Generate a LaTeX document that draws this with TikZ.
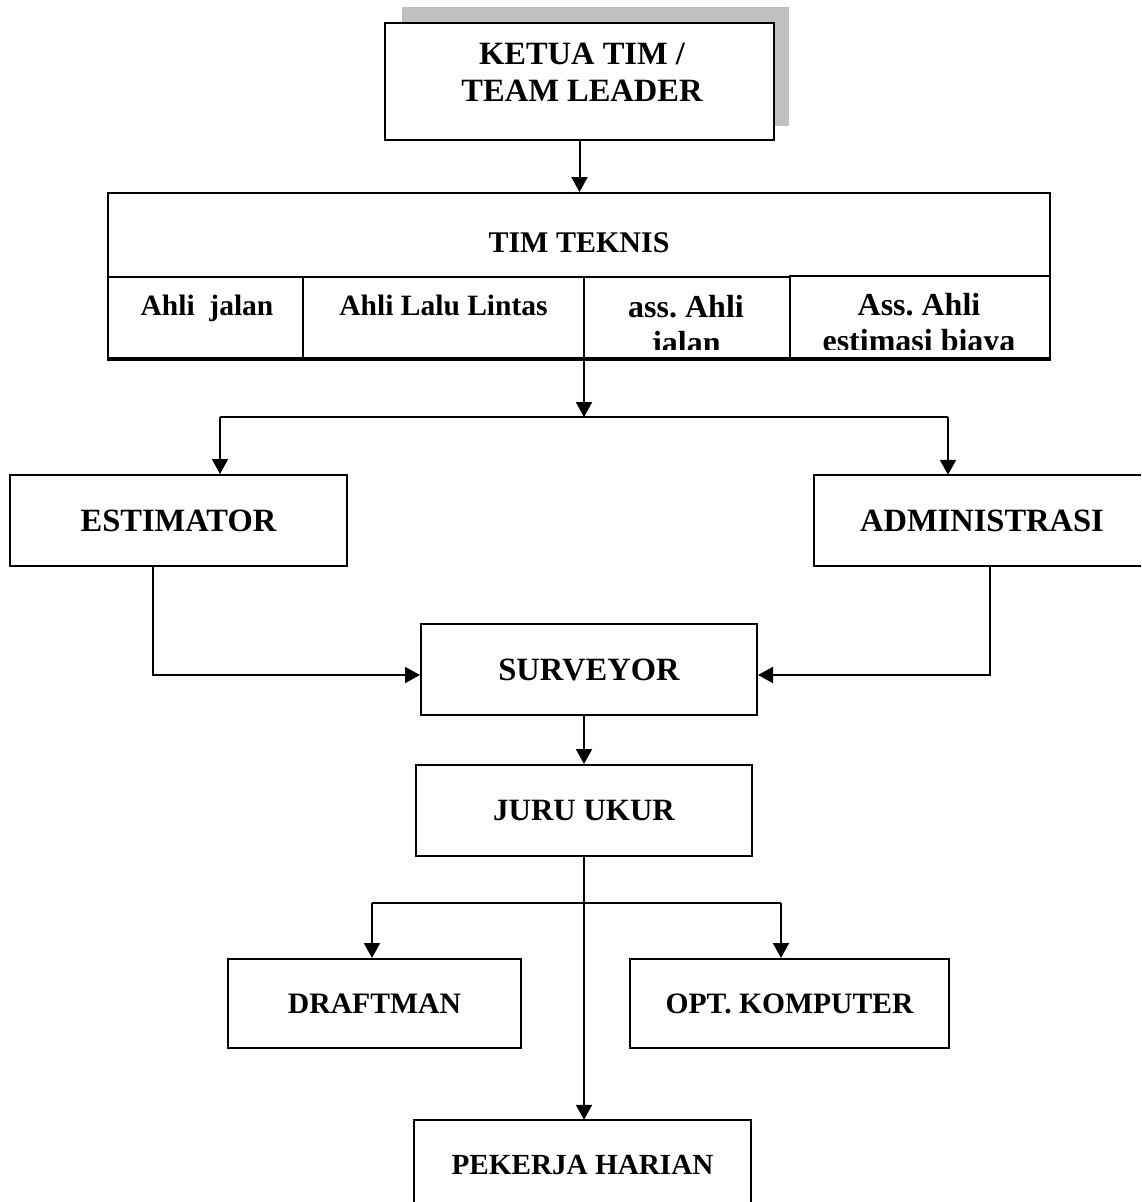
\documentclass[tikz,border=0pt]{standalone}
\usepackage{fontspec}
\setmainfont{Liberation Serif}
\usetikzlibrary{arrows.meta}
\definecolor{shadowgray}{RGB}{192,192,192}
\newcommand\fs[1]{\fontsize{#1}{37}\selectfont\bfseries\frenchspacing}
\newcommand\fsc[1]{\fontsize{#1}{36}\selectfont\bfseries\frenchspacing}
\begin{document}
\begin{tikzpicture}[x=1pt,y=-1pt,
  box/.style={draw, line width=2pt, fill=white, inner sep=0pt, align=center},
  txt/.style={inner sep=0pt, align=center},
  arr/.style={line width=2pt, -{Triangle[length=15pt,width=16pt]}},
  ln/.style={line width=2pt}]
\useasboundingbox (0,0) rectangle (1141,1202);

% top box with shadow
\fill[shadowgray] (402,7) rectangle (789,126);
\node[box, minimum width=389pt, minimum height=117pt] (ketua) at (579.5,81.5) {};
\node[txt, anchor=north, font=\fs{32.5}] (ketual) at (582,43) {KETUA TIM /\\TEAM LEADER};

% TIM TEKNIS block
\node[draw, line width=2pt, inner sep=0pt, minimum width=942pt, minimum height=165pt] (tim) at (579,275.5) {};
\node[txt, font=\fs{30}] (timl) at (579,243) {TIM TEKNIS};
\draw[ln] (tim.west |- 0,277) -- (789,277);
\draw[ln] (789,275.5) -- (tim.east |- 0,275.5);
\draw[ln] (303,277) -- (303,358);
\draw[ln] (584,277) -- (584,358);
\draw[ln] (790,275.5) -- (790,358);
\begin{scope}
  \clip (110,279) rectangle (1048,349);
  \node[txt, anchor=base, font=\fsc{29.5}] (c1) at (207,315) {Ahli\ \ jalan};
  \node[txt, anchor=base, font=\fsc{29.5}] (c2) at (443.5,315) {Ahli Lalu Lintas};
  \node[txt, anchor=north, font=\fsc{32}] (c3) at (686,295) {ass. Ahli\\jalan};
  \node[txt, anchor=north, font=\fsc{32}] (c4) at (919,293) {Ass. Ahli\\estimasi biaya};
\end{scope}
\draw[line width=3.5pt] (tim.south west) -- (tim.south east);

\draw[arr] (ketua.south) -- (ketua.south |- tim.north);

% split to estimator / administrasi
\coordinate (split) at (584,417);
\coordinate (sl) at (220,417);
\coordinate (sr) at (948,417);
\node[box, minimum width=337pt, minimum height=91pt, font=\fs{32.5}] (est) at (178.5,520.5) {ESTIMATOR};
\node[txt, minimum width=336pt, minimum height=91pt, font=\fs{32.5}] (adm) at (982,520.5) {ADMINISTRASI};
\draw[ln] (adm.north west) ++(327,0) -- (adm.north west) -- (adm.south west) -- ++(327,0);

\draw[arr] (tim.south -| split) -- (split);
\draw[ln] (sl) -- (sr);
\draw[arr] (sl) -- (sl |- est.north);
\draw[arr] (sr) -- (sr |- adm.north);

% surveyor
\node[box, minimum width=336pt, minimum height=91pt, font=\fs{32.5}] (surv) at (589,669.5) {SURVEYOR};
\draw[arr] ([xshift=-25.5pt]est.south) |- ([yshift=-5.5pt]surv.west);
\draw[arr] ([xshift=8pt]adm.south) |- ([yshift=-5.5pt]surv.east);

% juru ukur
\node[box, minimum width=336pt, minimum height=91pt, font=\fs{31}] (juru) at (584,810.5) {JURU UKUR};
\draw[arr] (surv.south -| juru.north) -- (juru.north);

% draftman / opt komputer
\node[box, minimum width=293pt, minimum height=89pt, font=\fs{29.7}] (draft) at (374.5,1003.5) {DRAFTMAN};
\node[box, minimum width=319pt, minimum height=89pt, font=\fs{29.6}] (opt) at (789.5,1003.5) {OPT. KOMPUTER};
\coordinate (bl) at (372,903);
\coordinate (br) at (781,903);
\draw[ln] (bl) -- (br);
\draw[arr] (bl) -- (bl |- draft.north);
\draw[arr] (br) -- (br |- opt.north);

% pekerja harian
\node[txt, minimum width=337pt, minimum height=90pt, font=\fs{29.2}] (pek) at (582.5,1165) {PEKERJA HARIAN};
\draw[ln] (pek.west |- 0,1202) -- (pek.north west) -- (pek.north east) -- (pek.east |- 0,1202);
\draw[arr] (juru.south) -- (juru.south |- pek.north);
\end{tikzpicture}
\end{document}
